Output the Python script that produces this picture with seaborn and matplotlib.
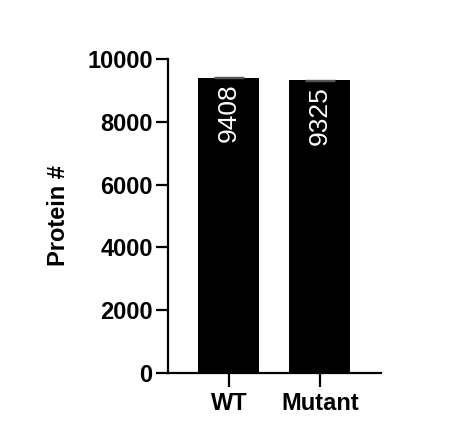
import matplotlib
matplotlib.use('Agg')
import matplotlib.pyplot as plt
import seaborn as sns
import pandas as pd

groups = ['WT', 'Mutant']
protein_counts = [9408, 9325]
errors = [15, 15]
y_ticks = [0, 2000, 4000, 6000, 8000, 10000]

sns.set_style('ticks')
plt.rcParams['font.family'] = ['Liberation Sans', 'DejaVu Sans']
plt.rcParams.update({'text.color': 'black', 'axes.labelcolor': 'black',
                     'xtick.color': 'black', 'ytick.color': 'black',
                     'axes.edgecolor': 'black'})

df = pd.DataFrame({'group': groups, 'count': protein_counts})

fig = plt.figure(figsize=(4.54, 4.47), dpi=100)
ax = fig.add_axes([0.370, 0.166, 0.469, 0.702])

sns.barplot(data=df, x='group', y='count', color='black', width=0.67,
            saturation=1, edgecolor='black', linewidth=0, ax=ax, errorbar=None)
ax.errorbar(range(len(groups)), protein_counts, yerr=errors, fmt='none',
            ecolor='#555555', elinewidth=1, capsize=11, capthick=1)

for i, v in enumerate(protein_counts):
    ax.text(i, v - 200, str(v), rotation=90, color='white', ha='center',
            va='top', fontsize=19)

ax.set_xlim(-0.67, 1.67)
ax.set_ylim(0, 10000)
ax.set_yticks(y_ticks)
ax.set_ylabel('Protein #', fontsize=17, fontweight='bold', labelpad=12)
ax.set_xlabel('')
for lbl in ax.get_yticklabels():
    lbl.set_fontweight('bold')
    lbl.set_fontsize(17)
for lbl in ax.get_xticklabels():
    lbl.set_fontweight('bold')
    lbl.set_fontsize(17)

sns.despine(ax=ax)
for s in ['left', 'bottom']:
    ax.spines[s].set_linewidth(1.6)
ax.tick_params(axis='y', length=9, width=1.6, pad=2)
ax.tick_params(axis='x', length=10, width=1.6, pad=4)

fig.savefig('out.png', dpi=100)
